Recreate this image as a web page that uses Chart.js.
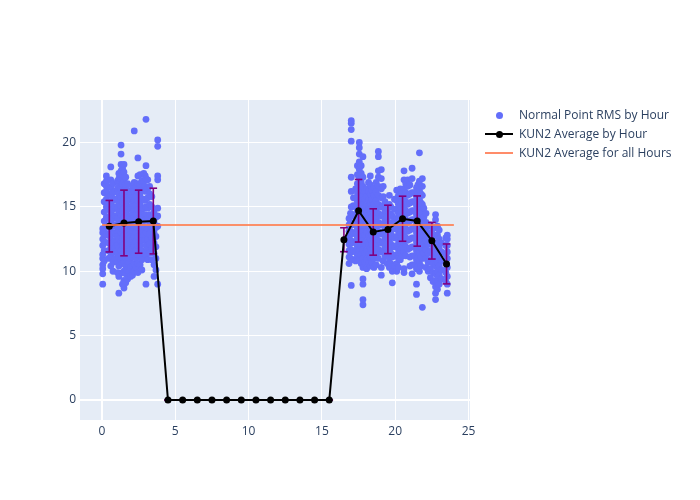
<!DOCTYPE html>
<html>
<head>
<meta charset="utf-8">
<script src="https://cdn.jsdelivr.net/npm/chart.js@4/dist/chart.umd.min.js"></script>
<style>
  html, body { margin: 0; padding: 0; background: #fff; }
  #wrap { position: relative; width: 700px; height: 500px; font-family: "Open Sans", sans-serif; }
  canvas { position: absolute; left: 0; top: 0; }
  .leg { position: absolute; left: 519px; font-size: 12px; color: #2a3f5f; line-height: 14px; white-space: nowrap; }
  .sym { position: absolute; }
</style>
</head>
<body>
<div id="wrap">
  <canvas id="c" width="700" height="500"></canvas>
  <div class="sym" style="left:496px;top:112px;width:7px;height:7px;border-radius:50%;background:#636efa;"></div>
  <div class="leg" style="top:108px;">Normal Point RMS by Hour</div>
  <div class="sym" style="left:485px;top:133px;width:28px;height:2px;background:#000;"></div>
  <div class="sym" style="left:496px;top:131px;width:7px;height:7px;border-radius:50%;background:#000;"></div>
  <div class="leg" style="top:127px;">KUN2 Average by Hour</div>
  <div class="sym" style="left:485px;top:152px;width:28px;height:2px;background:#ff8c69;"></div>
  <div class="leg" style="top:146px;">KUN2 Average for all Hours</div>
</div>
<script>
// ---- Data ----
// Normal point passes: x position (hour of day) and RMS values in each pass
const passHours = [
  0.05, 0.15, 0.3, 0.45, 0.6, 0.75, 0.9, 1.05, 1.15, 1.3, 1.4, 1.5, 1.62, 1.75, 1.85, 1.95,
  2.08, 2.2, 2.33, 2.45, 2.6, 2.72, 2.85, 2.95, 3.0, 3.12, 3.25, 3.4, 3.55, 3.68, 3.8,
  16.85, 16.95, 17.0, 17.15, 17.3, 17.42, 17.55, 17.68, 17.8, 17.92, 18.05, 18.18, 18.3,
  18.42, 18.55, 18.7, 18.85, 19.05, 19.18, 19.3, 19.45, 19.6, 19.7, 19.8, 19.95,
  20.1, 20.22, 20.35, 20.48, 20.6, 20.72, 20.85, 21.0, 21.15, 21.3, 21.45, 21.55, 21.65,
  21.75, 21.85, 21.95, 22.1, 22.25, 22.4, 22.58, 22.75, 22.88, 23.0, 23.15, 23.45, 23.55
];
const passRms = [
  [9.0, 9.8, 10.2, 10.5, 11.0, 11.3, 12.0, 12.5, 13.0, 13.3],
  [10.8, 11.6, 12.3, 13.1, 13.9, 14.6, 15.4, 16.1, 16.8],
  [12.8, 13.5, 14.2, 15.0, 15.6, 16.2, 16.6, 17.0, 17.4],
  [11.0, 11.6, 12.2, 12.9, 13.5, 14.1, 14.8, 15.4, 16.0, 16.6],
  [10.4, 11.2, 11.8, 12.5, 13.1, 13.8, 14.5, 15.2, 15.9, 16.5, 17.1, 18.1],
  [10.0, 10.7, 11.5, 12.2, 12.9, 13.5, 14.1, 14.8, 15.5, 16.1, 16.8],
  [11.0, 11.8, 12.4, 13.0, 13.6, 14.3, 15.0, 15.6, 16.2],
  [9.9, 10.7, 11.4, 12.0, 12.7, 13.4, 14.1, 14.9, 15.6, 16.4, 17.0],
  [8.3, 9.6, 10.4, 11.1, 11.8, 12.5, 13.2, 13.9, 14.6, 15.3, 16.0, 16.6, 17.2, 17.6],
  [10.9, 11.6, 12.3, 13.0, 13.7, 14.4, 15.1, 15.8, 16.5, 17.2, 17.8, 18.3, 19.1, 19.8],
  [9.0, 9.9, 10.6, 11.3, 12.0, 12.6, 13.3, 14.0, 14.7, 15.4, 16.1, 16.8, 17.5, 18.0],
  [8.7, 9.3, 10.0, 10.7, 11.4, 12.1, 12.8, 13.5, 14.2, 14.9, 15.6, 16.3, 17.0, 17.7, 18.3],
  [9.1, 9.8, 10.4, 11.1, 11.9, 12.5, 13.2, 13.9, 14.6, 15.3, 16.0, 16.7, 17.3],
  [9.4, 10.1, 10.8, 11.5, 12.2, 12.9, 13.6, 14.3, 15.0, 15.7, 16.3, 16.8],
  [10.0, 10.7, 11.4, 12.1, 12.8, 13.5, 14.2, 14.9, 15.6, 16.2],
  [9.6, 10.3, 11.0, 11.8, 12.6, 13.3, 14.0, 14.8, 15.5, 16.1],
  [9.7, 10.4, 11.1, 11.7, 12.4, 13.1, 13.8, 14.5, 15.2, 15.8, 16.6],
  [10.0, 10.6, 11.3, 12.0, 12.7, 13.4, 14.1, 14.8, 15.5, 16.2, 16.9, 20.9],
  [10.3, 11.0, 11.6, 12.3, 13.0, 13.7, 14.4, 15.1, 15.8, 16.5],
  [9.9, 10.6, 11.3, 12.0, 12.7, 13.4, 14.1, 14.8, 15.5, 16.2, 16.8, 17.4, 18.8],
  [10.5, 11.2, 12.0, 12.8, 13.6, 14.4, 15.2, 16.0, 16.7, 17.5],
  [10.1, 10.9, 11.6, 12.4, 13.2, 14.0, 14.8, 15.6, 16.3, 17.0],
  [12.8, 13.5, 14.2, 14.9, 15.6, 16.3, 17.0, 17.6],
  [11.5, 12.4, 13.3, 14.4, 15.5, 16.6, 17.4],
  [9.0, 11.2, 12.0, 13.0, 14.0, 15.0, 16.2, 17.2, 18.2, 21.8],
  [10.9, 11.7, 12.5, 13.3, 14.1, 14.9, 15.7, 16.4, 17.1],
  [11.4, 12.1, 12.9, 13.7, 14.4, 15.2, 16.0, 16.6],
  [10.9, 11.8, 12.6, 13.4, 14.2, 15.0, 15.8],
  [9.6, 10.5, 11.4, 12.2, 13.0, 13.8, 14.6],
  [10.1, 11.0, 11.9, 12.7, 13.4, 14.2],
  [9.0, 13.5, 14.3, 14.9, 17.1, 17.4, 19.7, 20.2],
  [10.6, 11.1, 11.6, 12.1, 12.6, 13.1, 13.6, 14.1],
  [11.0, 11.7, 12.4, 13.1, 13.8, 14.5],
  [8.9, 11.5, 12.2, 12.9, 13.6, 14.3, 15.0, 16.2, 17.3, 20.1, 21.0, 21.5, 21.7],
  [10.9, 11.6, 12.3, 13.0, 13.7, 14.4, 15.1, 15.7],
  [10.8, 11.5, 12.2, 12.9, 13.6, 14.3, 15.0, 15.7, 16.4],
  [11.2, 11.9, 12.6, 13.3, 14.0, 14.7, 15.4, 16.1, 16.8, 17.5, 18.2],
  [10.9, 11.6, 12.3, 13.0, 13.7, 14.4, 15.1, 15.8, 16.5, 17.2, 17.9, 18.5, 19.1, 19.6, 20.0],
  [10.6, 11.3, 12.0, 12.7, 13.4, 14.1, 14.8, 15.5, 16.2, 16.9, 17.6, 18.2],
  [7.4, 7.8, 9.0, 9.4, 10.3, 11.0, 11.7, 12.4, 13.1, 13.8, 14.5, 15.2, 15.9, 16.6, 17.3, 18.9],
  [10.7, 11.4, 12.1, 12.8, 13.5, 14.2, 14.9, 15.6, 16.2],
  [10.2, 10.9, 11.6, 12.3, 13.0, 13.7, 14.4, 15.1, 15.8, 16.4],
  [10.6, 11.3, 12.0, 12.7, 13.4, 14.1, 14.8, 15.5, 16.2, 16.9],
  [10.4, 11.1, 11.8, 12.5, 13.2, 13.9, 14.6, 15.3, 16.0, 16.7, 17.4],
  [10.7, 11.4, 12.1, 12.8, 13.5, 14.2, 14.9, 15.6, 16.3],
  [10.3, 11.0, 11.7, 12.4, 13.1, 13.8, 14.5, 15.2, 15.9, 16.5],
  [10.5, 11.3, 12.0, 12.7, 13.4, 14.1, 14.8, 15.5, 16.2, 16.9],
  [11.0, 11.7, 12.4, 13.1, 13.8, 14.5, 15.2, 15.9, 16.6, 17.3, 17.8, 18.9, 19.3],
  [9.7, 10.3, 11.5, 12.2, 12.9, 13.6, 14.3, 15.0, 15.7, 16.4, 17.2, 17.9],
  [10.8, 11.6, 12.3, 13.0, 13.7, 14.4, 15.1, 15.8, 16.6],
  [11.2, 11.9, 12.6, 13.3, 14.0, 14.7, 15.4],
  [10.6, 11.4, 12.1, 12.8, 13.5, 14.2, 14.9],
  [10.3, 11.0, 11.7, 12.4, 13.1, 13.8, 14.5, 15.2, 15.9],
  [10.6, 11.4, 12.1, 12.9, 13.6, 14.4, 15.0],
  [9.1, 10.0, 11.1, 11.9, 12.7, 13.5, 14.3],
  [10.4, 11.2, 11.9, 12.6, 13.3, 14.0, 14.8, 15.6],
  [10.0, 10.6, 11.3, 12.0, 12.7, 13.4, 14.1, 14.8, 15.5, 16.3],
  [10.3, 11.0, 11.7, 12.4, 13.1, 13.8, 14.5, 15.2, 15.9],
  [10.9, 11.6, 12.3, 13.0, 13.7, 14.4, 15.1, 15.8, 16.4],
  [11.2, 11.9, 12.6, 13.3, 14.0, 14.7, 15.4, 16.1],
  [9.9, 10.2, 11.5, 12.2, 12.9, 13.6, 14.3, 15.0, 15.7, 16.4, 17.1, 17.8],
  [11.2, 11.9, 12.6, 13.3, 14.0, 14.7, 15.4, 16.1, 16.8],
  [11.7, 12.4, 13.1, 13.8, 14.5, 15.2, 15.9, 16.6, 17.1],
  [10.4, 11.1, 11.8, 12.5, 13.2, 13.9, 14.6, 15.3, 16.0, 16.7],
  [9.8, 10.5, 11.2, 11.9, 12.6, 13.3, 14.0, 14.7, 15.4, 16.1, 17.2, 18.0],
  [10.5, 11.2, 11.9, 12.6, 13.3, 14.0, 14.7, 15.4, 16.1],
  [8.2, 9.0, 10.2, 10.9, 11.6, 12.3, 13.0, 13.7, 14.4, 15.1, 15.8, 16.5],
  [10.4, 11.1, 11.8, 12.5, 13.2, 13.9, 14.6, 15.3, 16.0, 16.7],
  [10.0, 10.7, 11.4, 12.1, 12.8, 13.5, 14.2, 14.9, 15.6, 16.3, 17.0, 19.2],
  [10.4, 11.1, 11.8, 12.5, 13.2, 13.9, 14.6, 15.3, 16.0],
  [7.2, 11.0, 11.7, 12.4, 13.1, 13.8, 14.5, 15.2, 15.9, 16.6, 17.2],
  [11.4, 12.1, 12.8, 13.5, 14.2, 14.9],
  [10.3, 11.0, 11.7, 12.4, 13.1, 13.8, 14.5],
  [10.0, 10.7, 11.4, 12.1, 12.8, 13.5],
  [9.5, 10.2, 10.9, 11.6, 12.3, 13.0, 13.6],
  [9.2, 9.9, 10.6, 11.3, 12.0, 12.7, 13.3],
  [7.8, 8.3, 8.8, 9.3, 9.8, 10.4, 11.0, 11.6, 12.2, 12.8, 13.4, 14.0, 14.4],
  [8.6, 9.3, 10.0, 10.7, 11.4, 12.1, 12.8, 13.5],
  [9.0, 9.7, 10.4, 11.1, 11.8, 12.5, 13.2],
  [9.4, 10.1, 10.8, 11.5, 12.2],
  [9.2, 9.9, 10.6, 11.3, 12.0, 12.6],
  [8.3, 9.0, 9.6, 10.3, 11.0, 11.5, 12.0, 12.5, 12.8]
];
// Hourly averages and their standard deviations
const avgHours = [0.5, 1.5, 2.5, 3.5, 4.5, 5.5, 6.5, 7.5, 8.5, 9.5, 10.5, 11.5,
                  12.5, 13.5, 14.5, 15.5, 16.5, 17.5, 18.5, 19.5, 20.5, 21.5, 22.5, 23.5];
const avgRms = [13.5, 13.75, 13.85, 13.9, 0, 0, 0, 0, 0, 0, 0, 0,
                0, 0, 0, 0, 12.45, 14.7, 13.05, 13.25, 14.08, 13.9, 12.37, 10.57];
const avgStd = [2.0, 2.55, 2.45, 2.55, 0, 0, 0, 0, 0, 0, 0, 0,
                0, 0, 0, 0, 0.93, 2.43, 1.8, 1.88, 1.75, 1.95, 1.42, 1.55];
// Overall average
const overallX = [0, 24];
const overallRms = 13.6;
// Axis ticks
const xTicks = [0, 5, 10, 15, 20, 25];
const yTicks = [0, 5, 10, 15, 20];

// ---- Build datasets ----
const scatterPts = [];
passHours.forEach((h, i) => passRms[i].forEach(v => scatterPts.push({x: h, y: v})));
const avgPts = avgHours.map((h, i) => ({x: h, y: avgRms[i]}));
const errPts = [];
avgHours.forEach((h, i) => {
  errPts.push({x: h, y: avgRms[i] - avgStd[i]});
  errPts.push({x: h, y: avgRms[i] + avgStd[i]});
  errPts.push({x: h, y: null});
});
const overallPts = overallX.map(x => ({x: x, y: overallRms}));

const bgPlugin = {
  id: 'plotbg',
  beforeDraw(chart) {
    const {ctx, chartArea: a} = chart;
    ctx.save();
    ctx.fillStyle = '#e5ecf6';
    ctx.fillRect(a.left, a.top, a.right - a.left, a.bottom - a.top);
    ctx.restore();
  }
};

const font = {family: '"Open Sans", sans-serif', size: 12};
const gridW = c => (c.tick && c.tick.value === 0 ? 2 : 1);

new Chart(document.getElementById('c'), {
  type: 'scatter',
  data: {
    datasets: [
      {
        label: 'Normal Point RMS by Hour',
        data: scatterPts,
        pointRadius: 3.4,
        pointBorderWidth: 0,
        pointBackgroundColor: '#636efa',
        showLine: false,
        order: 4
      },
      {
        label: 'err',
        data: errPts,
        showLine: true,
        spanGaps: false,
        borderColor: '#800080',
        borderWidth: 1.6,
        pointStyle: 'line',
        pointRadius: 3.8,
        pointBorderColor: '#800080',
        pointBorderWidth: 1.6,
        order: 3
      },
      {
        label: 'KUN2 Average by Hour',
        data: avgPts,
        showLine: true,
        borderColor: '#000',
        borderWidth: 2,
        pointRadius: 3.5,
        pointBackgroundColor: '#000',
        pointBorderWidth: 0,
        order: 2
      },
      {
        label: 'KUN2 Average for all Hours',
        data: overallPts,
        showLine: true,
        borderColor: 'rgba(255,127,80,0.85)',
        borderWidth: 2,
        pointRadius: 0,
        order: 1
      }
    ]
  },
  options: {
    responsive: false,
    animation: false,
    devicePixelRatio: 1,
    layout: {padding: {left: 0, top: 100, right: 230, bottom: 0}},
    plugins: {legend: {display: false}, tooltip: {enabled: false}},
    scales: {
      x: {
        type: 'linear',
        min: -1.5,
        max: 25.1,
        afterFit: s => { s.height = 80; },
        afterBuildTicks: s => { s.ticks = xTicks.map(v => ({value: v})); },
        grid: {color: '#fff', lineWidth: gridW, drawTicks: false},
        border: {display: false},
        ticks: {font: font, color: '#2a3f5f', padding: 4, maxRotation: 0}
      },
      y: {
        type: 'linear',
        min: -1.55,
        max: 23.3,
        afterFit: s => { s.width = 80; },
        afterBuildTicks: s => { s.ticks = yTicks.map(v => ({value: v})); },
        grid: {color: '#fff', lineWidth: gridW, drawTicks: false},
        border: {display: false},
        ticks: {font: font, color: '#2a3f5f', padding: 4}
      }
    }
  },
  plugins: [bgPlugin]
});
</script>
</body>
</html>
